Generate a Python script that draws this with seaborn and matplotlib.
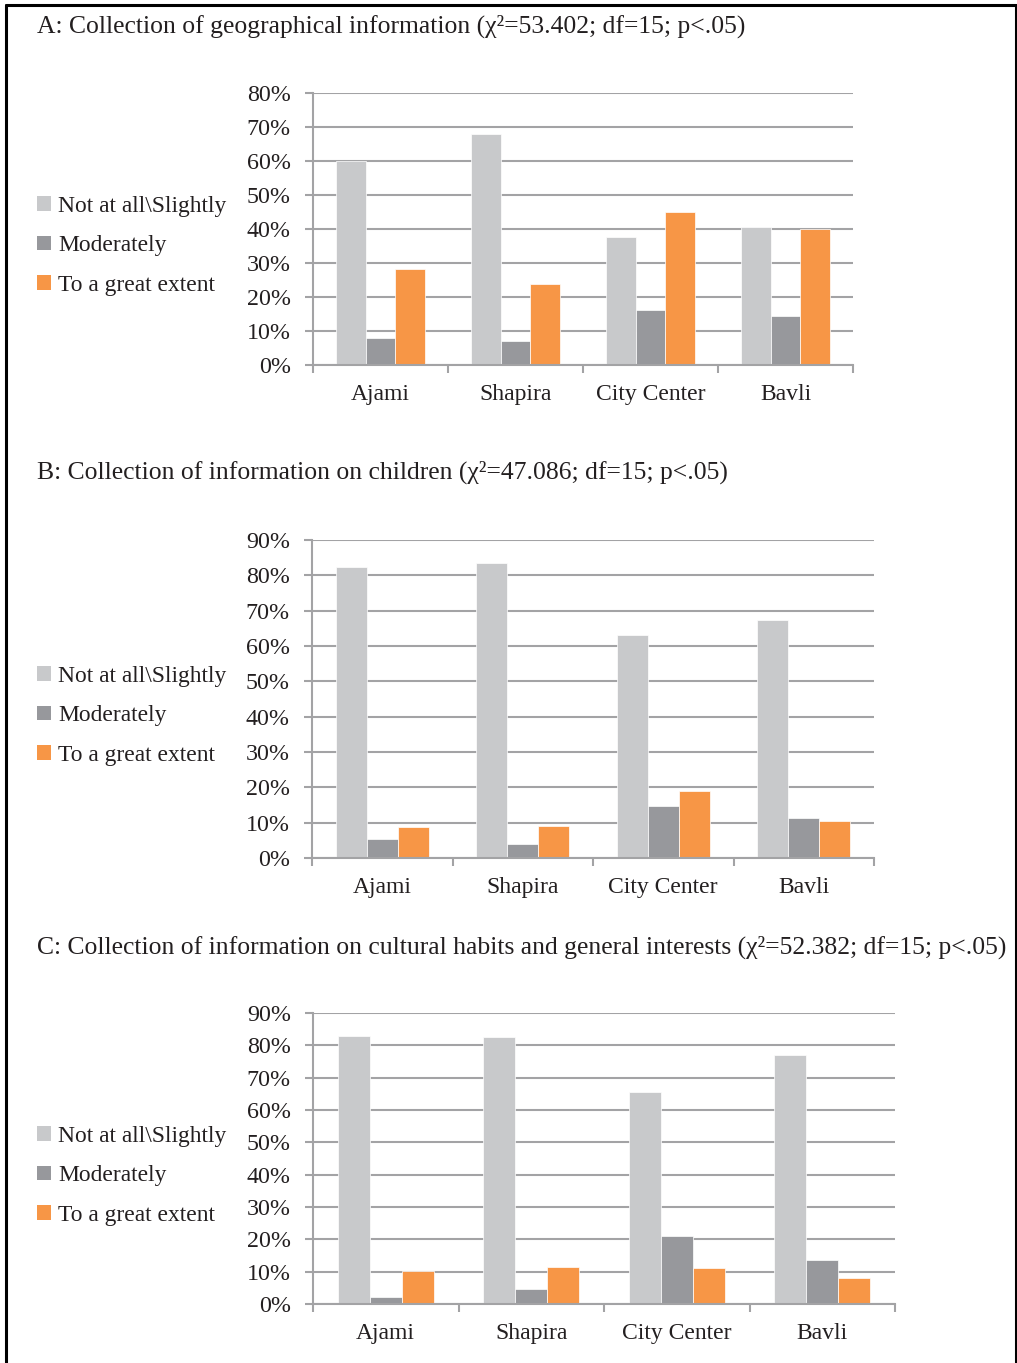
import numpy as np
import pandas as pd
import matplotlib
matplotlib.use("Agg")
import matplotlib.pyplot as plt
from matplotlib.patches import Patch
from matplotlib.lines import Line2D
from matplotlib.ticker import PercentFormatter, FixedLocator
import seaborn as sns

# ---- data -------------------------------------------------------------
areas = ["Ajami", "Shapira", "City Center", "Bavli"]
responses = ["Not at all\\Slightly", "Moderately", "To a great extent"]

geo_not = [60.0, 67.9, 37.6, 40.5]
geo_mod = [7.9, 7.2, 16.2, 14.4]
geo_great = [28.1, 23.8, 44.9, 39.9]

child_not = [82.3, 83.5, 63.1, 67.5]
child_mod = [5.4, 3.9, 14.6, 11.2]
child_great = [8.7, 9.0, 18.9, 10.4]

culture_not = [83.0, 82.5, 65.5, 77.1]
culture_mod = [2.1, 4.7, 21.0, 13.5]
culture_great = [10.1, 11.4, 11.2, 7.9]

titles = [
    "A: Collection of geographical information (\u03c7\u00b2=53.402; df=15; p<.05)",
    "B: Collection of information on children (\u03c7\u00b2=47.086; df=15; p<.05)",
    "C: Collection of information on cultural habits and general interests "
    "(\u03c7\u00b2=52.382; df=15; p<.05)",
]
y_max = [80, 90, 90]

colors = ["#C8C9CB", "#97989C", "#F79646"]
grid_col = "#A3A3A5"
text_col = "#231F20"

sns.set_theme(style="white")
plt.rcParams["font.family"] = ["Liberation Serif", "DejaVu Serif"]

W, H = 1017, 1363
fig = plt.figure(figsize=(W / 100, H / 100), dpi=100)


def long_frame(not_, mod, great):
    rows = []
    for resp, vals in zip(responses, [not_, mod, great]):
        for a, v in zip(areas, vals):
            rows.append({"Area": a, "Response": resp, "Share": v})
    return pd.DataFrame(rows)


panels = [
    (long_frame(geo_not, geo_mod, geo_great), (313, 853, 93, 365), 26, 208),
    (long_frame(child_not, child_mod, child_great), (312, 874, 540, 858), 472, 678),
    (long_frame(culture_not, culture_mod, culture_great), (313, 895, 1013, 1304), 947, 1138),
]

for i, (df, (x0, x1, yt, yb), title_y, leg_y) in enumerate(panels):
    ax = fig.add_axes([x0 / W, 1 - yb / H, (x1 - x0) / W, (yb - yt) / H])
    sns.barplot(data=df, x="Area", y="Share", hue="Response",
                hue_order=responses, order=areas, palette=colors,
                width=0.66, saturation=1, legend=False, ax=ax,
                edgecolor="white", linewidth=0.5)
    ax.set_ylim(0, y_max[i])
    ax.set_xlim(-0.5, len(areas) - 0.5)
    ax.yaxis.set_major_locator(FixedLocator(np.arange(0, y_max[i] + 1, 10)))
    ax.yaxis.set_major_formatter(PercentFormatter(decimals=0))
    ax.set_xlabel("")
    ax.set_ylabel("")
    ax.set_axisbelow(True)
    ax.grid(axis="y", color=grid_col, linewidth=1.5)
    ax.grid(axis="x", visible=False)
    for s in ["top", "right"]:
        ax.spines[s].set_visible(False)
    for s in ["left", "bottom"]:
        ax.spines[s].set_color(grid_col)
        ax.spines[s].set_linewidth(1.5)
    ax.tick_params(axis="y", which="major", left=True, length=6, width=1.5,
                   color=grid_col, labelsize=17.3, labelcolor=text_col, pad=10)
    ax.tick_params(axis="x", which="major", bottom=False, labelsize=17,
                   labelcolor=text_col, pad=8)
    ax.xaxis.set_minor_locator(FixedLocator(np.arange(-0.5, len(areas), 1.0)))
    ax.tick_params(axis="x", which="minor", bottom=True, length=6, width=1.5,
                   color=grid_col)

    fig.text(37 / W, 1 - title_y / H, titles[i], fontsize=18.45, color=text_col,
             ha="left", va="center")

    handles = [Patch(facecolor=c, edgecolor="none") for c in colors]
    fig.legend(handles, responses, loc="upper left",
               bbox_to_anchor=(37 / W, 1 - (leg_y - 12) / H),
               frameon=False, fontsize=16.9, handlelength=0.6,
               handleheight=0.6, handletextpad=0.3, labelspacing=0.78,
               labelcolor=text_col, borderpad=0, borderaxespad=0)

# page frame: left, top and right edges
frame_kw = dict(color="black", linewidth=2.2, transform=fig.transFigure)
fig.add_artist(Line2D([6 / W, 6 / W], [0, 1 - 5 / H], **frame_kw))
fig.add_artist(Line2D([6 / W, 1015.5 / W], [1 - 5 / H, 1 - 5 / H], **frame_kw))
fig.add_artist(Line2D([1015.5 / W, 1015.5 / W], [0, 1 - 5 / H], **frame_kw))

fig.savefig("out.png", dpi=100)
